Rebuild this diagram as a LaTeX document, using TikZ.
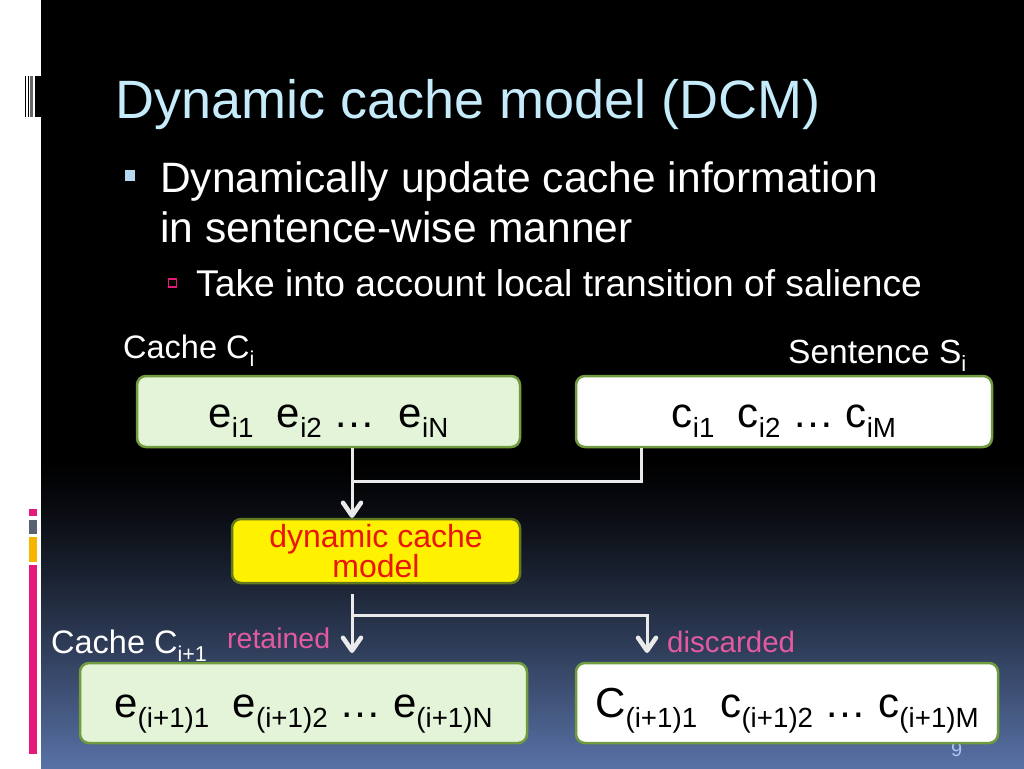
\documentclass[tikz,border=0pt]{standalone}
\usepackage{fontspec}
\setmainfont{Liberation Sans}
\usetikzlibrary{arrows.meta,calc}
\definecolor{titleblue}{RGB}{198,235,250}
\definecolor{bulblue}{RGB}{184,216,240}
\definecolor{decopink}{RGB}{229,25,122}
\definecolor{decogray}{RGB}{89,98,114}
\definecolor{decoorange}{RGB}{247,181,0}
\definecolor{bgblue}{RGB}{88,114,166}
\definecolor{boxgreen}{RGB}{227,244,216}
\definecolor{boxborder}{RGB}{112,155,62}
\definecolor{yelborder}{RGB}{100,120,30}
\definecolor{dcmred}{RGB}{232,23,12}
\definecolor{lblpink}{RGB}{228,90,160}
\definecolor{connc}{RGB}{234,234,234}
\definecolor{pagenum}{RGB}{170,200,240}
\newcommand{\lsub}[1]{\raisebox{-0.25em}{\scalebox{0.66}{#1}}}
\newcommand{\fsz}[1]{\fontsize{#1}{#1}\selectfont}
\tikzset{
  txt/.style={anchor=base west, inner sep=0pt, text=white},
  cbox/.style={draw=boxborder, line width=2.5pt, rounded corners=9pt, inner sep=0pt, text=black},
  conn/.style={draw=connc, line width=3pt},
  barb/.style={draw=connc, line width=4.5pt, line cap=round, line join=round},
}
\begin{document}
\begin{tikzpicture}[x=1pt,y=-1pt]
\useasboundingbox (0,0) rectangle (1024,768);
% background
\fill[white] (0,0) rectangle (1024,768);
\fill[black] (40.7,0) rectangle (1024,768);
\foreach \i in {0,...,79} {
  \pgfmathsetmacro{\pc}{100*((\i+0.5)/80)^1.25}
  \fill[bgblue!\pc!black] (40.7,{460+\i*3.85}) rectangle (1024,{460+(\i+1)*3.85+0.6});
}
% left decoration
\fill[black] (25,76) rectangle (26.2,117);
\fill[black] (27.8,76) rectangle (29,117);
\fill[gray!80!black] (30,76) rectangle (33,117);
\fill[black] (34.7,76) rectangle (40.7,117);
\fill[decopink] (28.7,509) rectangle (36.7,516);
\fill[decogray] (28.7,520) rectangle (36.7,534);
\fill[decoorange] (28.7,537) rectangle (36.7,562);
\fill[decopink] (28.7,565) rectangle (36.7,754);
% title and bullets
\node[txt, text=titleblue, font=\fsz{54}] (title) at (115,118) {Dynamic cache model (DCM)};
\fill[bulblue] (125,170) rectangle (135,181);
\node[txt, font=\fsz{42.5}] (b1a) at (160,192) {Dynamically update cache information};
\node[txt, font=\fsz{42.5}] (b1b) at (160,242) {in sentence-wise manner};
\draw[decopink, line width=1.2pt] (168.5,279) rectangle (176.5,287);
\node[txt, font=\fsz{37.2}] (b2) at (196,296) {Take into account local transition of salience};
% page number
\node[txt, text=pagenum, font=\fsz{20}] (pn) at (951,756) {9};
% labels
\node[txt, font=\fsz{32.5}] (lci) at (123,358) {Cache C\lsub{i}};
\node[txt, font=\fsz{33.5}] (lsi) at (788,363) {Sentence S\lsub{i}};
\node[txt, font=\fsz{32.5}] (lci1) at (51,653) {Cache C\lsub{i+1}};
\node[txt, text=lblpink, font=\fsz{28.5}] (lret) at (227,648) {retained};
\node[txt, text=lblpink, font=\fsz{29.5}] (ldis) at (667,652) {discarded};
% boxes
\node[cbox, fill=boxgreen, minimum width=383pt, minimum height=71pt, font=\fsz{42},
  text height=38pt, text depth=7pt] (bx1) at (328.5,411.5)
  {e\lsub{i1}\ \ e\lsub{i2}\ …\ \ e\lsub{iN}};
\node[cbox, fill=white, minimum width=416pt, minimum height=71pt, font=\fsz{42},
  text height=38pt, text depth=7pt] (bx2) at (784,411.5)
  {c\lsub{i1}\ \ c\lsub{i2}\ …\ c\lsub{iM}};
\node[cbox, draw=yelborder, fill=yellow, minimum width=288pt, minimum height=64pt, text=dcmred,
  font=\fontsize{32}{26}\selectfont, align=center] (bx3) at (376,551) {dynamic cache\\model};
\node[cbox, fill=boxgreen, minimum width=447pt, minimum height=80pt, font=\fsz{42},
  text height=35pt, text depth=7pt] (bx4) at (303.5,703)
  {e\lsub{(i+1)1}\ \ e\lsub{(i+1)2}\ …\ e\lsub{(i+1)N}};
\node[cbox, fill=white, minimum width=422pt, minimum height=80pt, font=\fsz{42},
  text height=35pt, text depth=7pt] (bx5) at (787,703)
  {C\lsub{(i+1)1}\ \ c\lsub{(i+1)2}\ …\ c\lsub{(i+1)M}};
% connectors
\coordinate (xa) at (352,0);
\coordinate (xb) at (641,0);
\coordinate (xc) at (647,0);
\coordinate (ja) at (352,481);
\coordinate (jb) at (352,615);
\coordinate (ta) at ($(bx3.north -| xa)+(0,-2)$);
\coordinate (tb) at ($(bx4.north -| xa)+(0,-11)$);
\coordinate (tc) at ($(bx5.north -| xc)+(0,-11)$);
\draw[conn] (bx1.south -| xa) -- (ta);
\draw[conn] (bx2.south -| xb) |- (ja);
\draw[conn, shorten <=10pt] (bx3.south -| xa) -- (tb);
\draw[conn] (jb) -| (tc);
\foreach \t in {ta,tb,tc}
  \draw[barb] ($(\t)+(-9,-13)$) -- (\t) -- ($(\t)+(9,-13)$);
\end{tikzpicture}
\end{document}
